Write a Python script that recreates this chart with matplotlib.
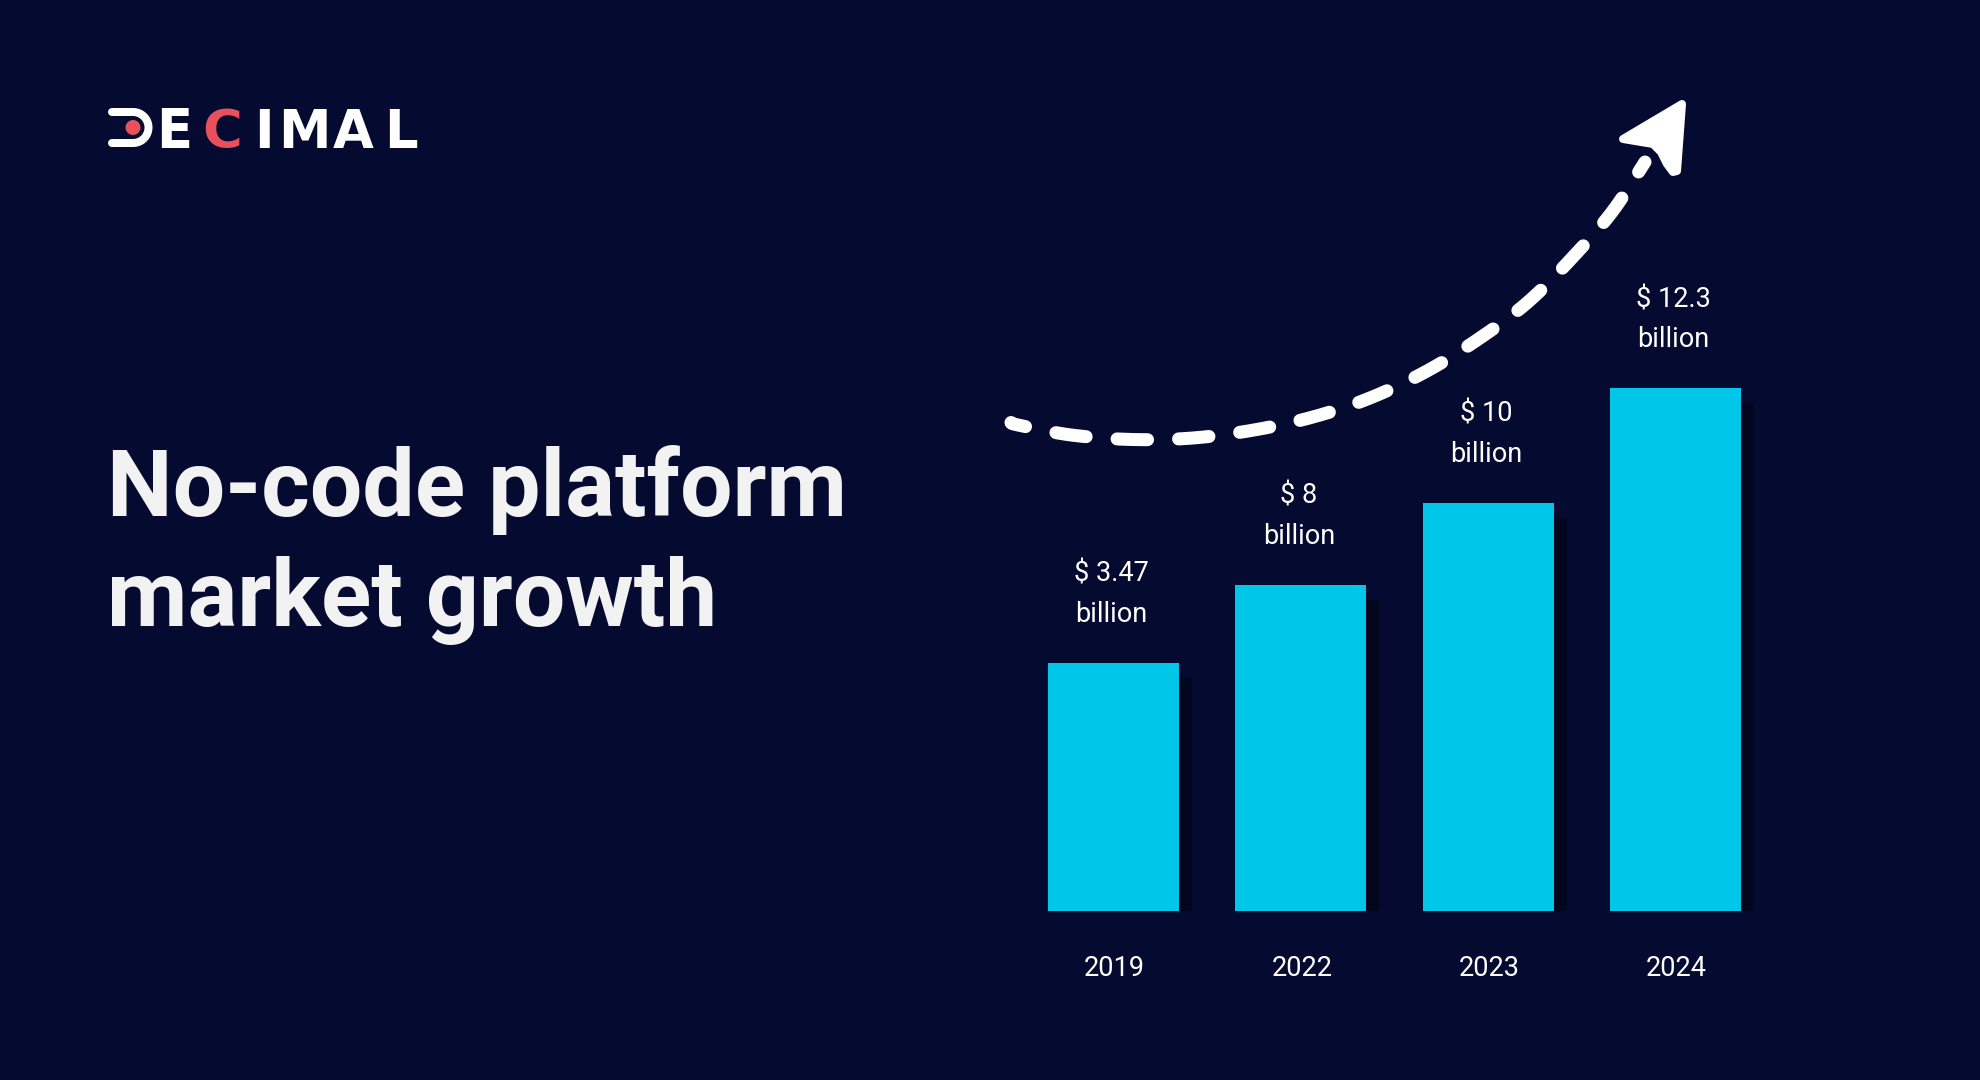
import numpy as np
import matplotlib
matplotlib.use("Agg")
import matplotlib.pyplot as plt
from matplotlib.patches import Polygon, Circle
import matplotlib.transforms as mtransforms

# ---------------- data ----------------
years = ["2019", "2022", "2023", "2024"]
values = [3.47, 8, 10, 12.3]                    # market size, $ billion
value_labels = ["$ 3.47", "$ 8", "$ 10", "$ 12.3"]
bar_heights = [2.48, 3.26, 4.08, 5.23]          # visual bar heights (graphic not to scale)
title_lines = ["No-code platform", "market growth"]
logo_letters = ["E", "C", "I", "M", "A", "L"]

# ---------------- style ----------------
BG = "#050b30"
BAR = "#00c6ea"
SHADOW = "#03061f"
WHITE = "#ffffff"
TITLE_C = "#f2f2f2"
RED = "#e8505b"

plt.rcParams["font.family"] = ["Roboto", "DejaVu Sans"]

W, H = 1980, 1080
fig = plt.figure(figsize=(W / 100, H / 100), dpi=100, facecolor=BG)

# overlay axes in pixel coordinates (y down) for decorations
ov = fig.add_axes([0, 0, 1, 1], zorder=3)
ov.set_xlim(0, W)
ov.set_ylim(H, 0)
ov.axis("off")
ov.patch.set_alpha(0)

# ---------------- bar chart ----------------
spacing = 187.33
left_px = 1113.5 - 0.5 * spacing
bottom_px = 911
ax = fig.add_axes([left_px / W, (H - bottom_px) / H, 4 * spacing / W, 600 / H], zorder=2)
ax.set_xlim(-0.5, 3.5)
ax.set_ylim(0, 6)
ax.axis("off")
ax.patch.set_alpha(0)

x = np.arange(len(years))
shadow_tr = ax.transData + mtransforms.ScaledTranslation(13 / 100, -15 / 100, fig.dpi_scale_trans)
ax.bar(x, bar_heights, width=0.70, color=SHADOW, transform=shadow_tr, zorder=1, linewidth=0)
ax.bar(x, bar_heights, width=0.70, color=BAR, zorder=2, linewidth=0)

for xi, h, lab, yr in zip(x, bar_heights, value_labels, years):
    ax.annotate(lab, (xi, h), xytext=(-2, 81), textcoords="offset pixels",
                ha="center", va="baseline", color=WHITE, fontsize=19.5)
    ax.annotate("billion", (xi, h), xytext=(-2, 41), textcoords="offset pixels",
                ha="center", va="baseline", color=WHITE, fontsize=19.5)
    ax.annotate(yr, (xi, 0), xytext=(1, -65), textcoords="offset pixels",
                ha="center", va="baseline", color=WHITE, fontsize=19.5)

# ---------------- title ----------------
ov.text(107, 516, title_lines[0], color=TITLE_C, fontsize=67, fontweight="bold",
        ha="left", va="baseline")
ov.text(107, 626, title_lines[1], color=TITLE_C, fontsize=67, fontweight="bold",
        ha="left", va="baseline")

# ---------------- logo ----------------
# mirrored "D" glyph with red dot
cx, cy, r = 133, 127.5, 15.5
theta = np.linspace(np.pi / 2, -np.pi / 2, 40)
gx = np.concatenate([[112], cx + r * np.cos(theta), [112]])
gy = np.concatenate([[cy - r], cy - r * np.sin(theta), [cy + r]])
ov.plot(gx, gy, color=WHITE, lw=8 * 0.72, solid_capstyle="round", solid_joinstyle="round")
ov.add_patch(Circle((133, 127.5), 7.5, color=RED, lw=0))
logo_x = [174, 222, 263.5, 304, 353.5, 401]
logo_c = [WHITE, RED, WHITE, WHITE, WHITE, WHITE]
logo_fs = [38, 39, 38, 38, 38, 38]
for lx, ch, c, fs in zip(logo_x, logo_letters, logo_c, logo_fs):
    ov.text(lx, 147.5, ch, color=c, fontsize=fs, fontweight="bold", ha="center",
            va="baseline", family=["DejaVu Sans"])

# ---------------- dashed growth arrow ----------------
pts = np.array([(1011, 422.5), (1018, 425), (1071, 435), (1132, 439.5), (1193, 438),
                (1254, 430), (1313, 417), (1370, 398), (1427, 371), (1480, 338),
                (1528, 302), (1572, 258), (1612, 212), (1645, 162)], dtype=float)

def catmull_rom(p, n=30):
    p = np.vstack([2 * p[0] - p[1], p, 2 * p[-1] - p[-2]])
    out = []
    for i in range(1, len(p) - 2):
        p0, p1, p2, p3 = p[i - 1], p[i], p[i + 1], p[i + 2]
        t = np.linspace(0, 1, n, endpoint=False)[:, None]
        seg = 0.5 * ((2 * p1) + (-p0 + p2) * t + (2 * p0 - 5 * p1 + 4 * p2 - p3) * t ** 2
                     + (-p0 + 3 * p1 - 3 * p2 + p3) * t ** 3)
        out.append(seg)
    out.append(p[-2][None, :])
    return np.vstack(out)

curve = catmull_rom(pts)
lw_px = 13
lw_pt = lw_px * 0.72
on, off, offs = 30.5 / lw_px, 31 / lw_px, 15 / lw_px
ov.plot(curve[:, 0], curve[:, 1], color=WHITE, lw=lw_pt,
        linestyle=(offs, (on, off)), dash_capstyle="round")

head = [(1682, 104), (1623, 139), (1641, 142), (1653, 144), (1661, 152),
        (1667, 164), (1673, 172), (1677, 171)]
ov.add_patch(Polygon(head, closed=True, facecolor=WHITE, edgecolor=WHITE,
                     lw=8 * 0.72, joinstyle="round"))

fig.savefig("out.png", dpi=100, facecolor=BG)
